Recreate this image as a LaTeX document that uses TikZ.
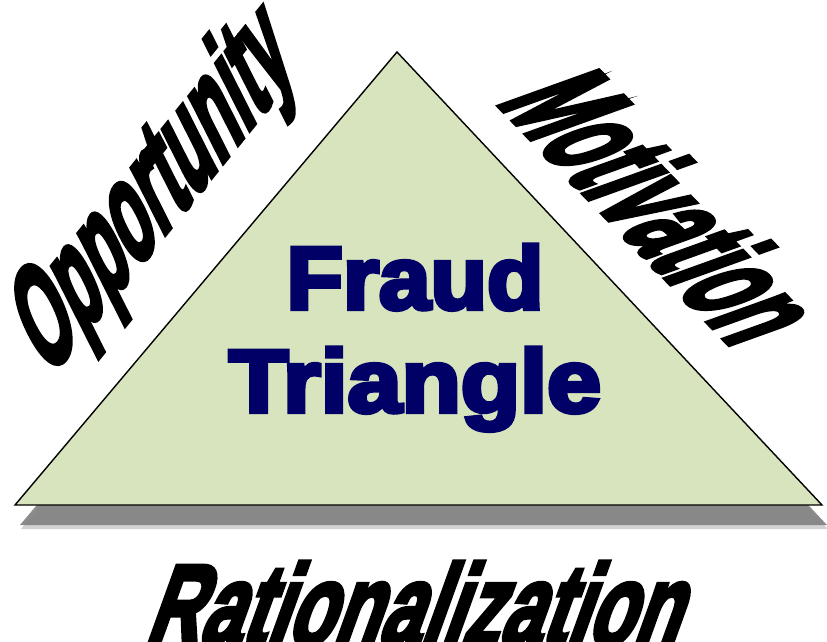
\documentclass[tikz,border=0pt]{standalone}
\usepackage{fontspec}
\newfontfamily\heavyfont{Liberation Sans}[BoldFeatures={FakeBold=4.5}]
\newfontfamily\navyfont{Liberation Sans}[BoldFeatures={FakeBold=5}]
\definecolor{trifill}{HTML}{D7E4BD}
\definecolor{navytext}{HTML}{000066}
\begin{document}
\begin{tikzpicture}[x=1pt,y=1pt,
  wordart/.style={inner sep=0pt, anchor=base west, transform shape,
    font=\heavyfont\bfseries\fontsize{60}{60}\selectfont, text=black},
  centertext/.style={inner sep=0pt, anchor=base, text=navytext, transform shape,
    font=\navyfont\bfseries\fontsize{89}{89}\selectfont}]
\useasboundingbox (0,0) rectangle (827,-642);
\coordinate (A) at (397,-52);
\coordinate (B) at (15,-505);
\coordinate (C) at (822,-505);
% shadow
\fill[gray!35] ([shift={(6,-24)}]A) -- ([shift={(6,-24)}]B) -- ([shift={(6,-24)}]C) -- cycle;
\fill[gray!100!white,opacity=0.9] ([shift={(5,-20)}]A) -- ([shift={(5,-20)}]B) -- ([shift={(5,-20)}]C) -- cycle;
% triangle
\filldraw[fill=trifill, draw=black, line width=1.4pt, line join=miter] (A) -- (B) -- (C) -- cycle;
% centre text
\begin{scope}[shift={(415,-309)}, xscale=1.04]
\node[centertext] (fraud) at (0,0) {Fraud};
\end{scope}
\begin{scope}[shift={(415,-412)}, xscale=1.09]
\node[centertext] (tri) at (0,0) {Triangle};
\end{scope}
% Opportunity
\begin{scope}[shift={(48,-378)}, rotate=51, xslant=0.45, xscale=1.15, yscale=2.1]
\node[wordart] (opp) at (0,0) {Opportunity};
\end{scope}
% Motivation
\begin{scope}[shift={(496,-102)}, rotate=-46, xslant=0.45, xscale=1.14, yscale=2.3]
\node[wordart] (mot) at (0,0) {Motivation};
\end{scope}
% Rationalization
\begin{scope}[shift={(143,-645)}, xslant=0.36, xscale=1.25, yscale=1.91]
\node[wordart] (rat) at (0,0) {Rationalization};
\end{scope}
\end{tikzpicture}
\end{document}
